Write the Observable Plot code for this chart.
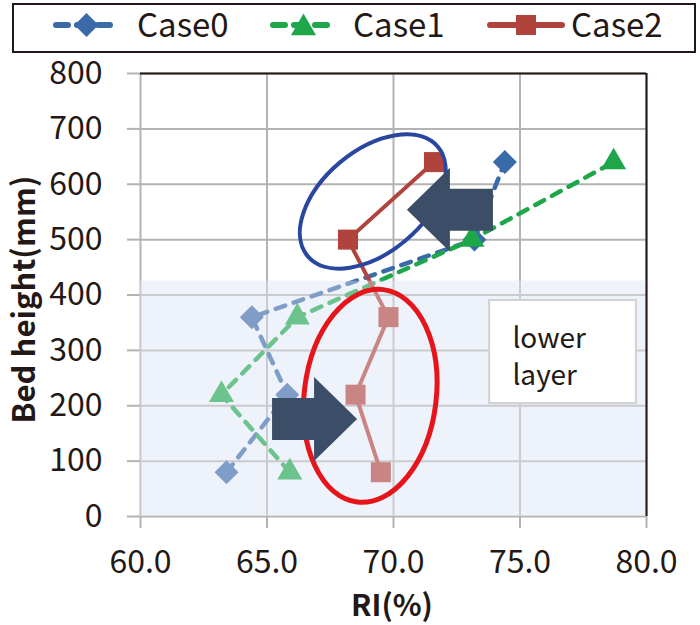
<!DOCTYPE html>
<html><head><meta charset="utf-8">
<script src="https://cdn.jsdelivr.net/npm/d3@7"></script>
<script src="https://cdn.jsdelivr.net/npm/@observablehq/plot@0.6"></script>
<style>
body{margin:0;background:#fff;font-family:"Noto Sans CJK JP","Noto Sans",sans-serif;}
#chart{width:700px;}
#chart svg{display:block;}
</style></head><body><div id="chart"></div>
<script>
// ---- data ----
const heights = [80, 220, 360, 500, 640];               // Bed height (mm)
const case0 = [63.4, 65.8, 64.4, 73.2, 74.4];           // RI(%)
const case1 = [65.9, 63.2, 66.2, 73.1, 78.7];
const case2 = [69.5, 68.5, 69.8, 68.2, 71.6];
const seriesNames = ["Case0", "Case1", "Case2"];
const xTicks = [60, 65, 70, 75, 80];
const yTicks = [0, 100, 200, 300, 400, 500, 600, 700, 800];
const xLabel = "RI(%)";
const yLabel = "Bed height(mm)";
const lowerLayerRange = [0, 425];
const lowerLayerLabel = "lower\nlayer";
// annotation anchors (data units)
const labelBoxX = [73.8, 79.6], labelBoxY = [204, 390], labelTextPos = [74.7, 352];
const ellipseCenters = [[69.2, 568], [69.1, 217]];
const arrowSpans = [[73.95, 70.55, 553], [65.22, 68.58, 175]];

// ---- styles ----
const colors = ["#3b6aa9", "#1ea64b", "#b0433b"];
const symbols = ["diamond2", "triangle", "square"];
const symbolR = [10.8, 9.3, 11.3];
const dashes = ["10,9", "10,9", null];
const textColor = "#231815";
const gridColor = "#b3b3b3";
const font = "'Noto Sans CJK JP', 'Noto Sans', sans-serif";

const values = [case0, case1, case2];
const rows = seriesNames.flatMap((name, i) => heights.map((h, j) => ({series: name, ri: values[i][j], h})));

// ---- legend ----
const legend = d3.create("svg").attr("width", 700).attr("height", 55)
  .style("font-family", font);
legend.append("rect").attr("x", 13).attr("y", 4).attr("width", 682).attr("height", 48)
  .attr("fill", "white").attr("stroke", textColor).attr("stroke-width", 2);
const legendPos = [[53, 120, 137], [270, 337, 353], [487, 565, 571]];
const d3sym = {diamond2: d3.symbolDiamond2, triangle: d3.symbolTriangle, square: d3.symbolSquare};
seriesNames.forEach((name, i) => {
  const [a, b, t] = legendPos[i];
  const ln = legend.append("line").attr("x1", a + 3).attr("x2", b - 3).attr("y1", 25).attr("y2", 25)
    .attr("stroke", colors[i]).attr("stroke-width", 6).attr("stroke-linecap", "round");
  if (dashes[i]) ln.attr("stroke-dasharray", "12,9");
  legend.append("path").attr("transform", `translate(${(a + b) / 2},${i === 1 ? 28 : 25})`)
    .attr("d", d3.symbol(d3sym[symbols[i]], Math.PI * symbolR[i] * symbolR[i])())
    .attr("fill", colors[i]);
  legend.append("text").attr("x", t).attr("y", 37).attr("font-size", 33).attr("fill", textColor).text(name);
});

// ---- custom annotation marks ----
const ellipseSpecs = [
  {c: ellipseCenters[0], rx: 85, ry: 51, angle: -40, color: "#2a47a0", w: 4},
  {c: ellipseCenters[1], rx: 66, ry: 107, angle: 7, color: "#e6141b", w: 5}
];
function ellipsesMark(index, scales) {
  const g = d3.create("svg:g");
  for (const e of ellipseSpecs) {
    const px = scales.x(e.c[0]), py = scales.y(e.c[1]);
    g.append("ellipse").attr("cx", px).attr("cy", py).attr("rx", e.rx).attr("ry", e.ry)
      .attr("transform", `rotate(${e.angle},${px},${py})`)
      .attr("fill", "none").attr("stroke", e.color).attr("stroke-width", e.w);
  }
  return g.node();
}
function arrowsMark(index, scales) {
  const g = d3.create("svg:g");
  for (const [from, to, yv] of arrowSpans) {
    const tx = scales.x(from), hx0 = scales.x(to), cy = scales.y(yv);
    const dir = Math.sign(hx0 - tx);
    const hb = hx0 - dir * 43;
    const pts = [[tx, cy - 21], [hb, cy - 21], [hb, cy - 42], [hx0, cy], [hb, cy + 42], [hb, cy + 21], [tx, cy + 21]];
    g.append("path").attr("d", "M" + pts.map(p => p.join(",")).join("L") + "Z").attr("fill", "#3c4d68");
  }
  return g.node();
}
function axisLabelsMark(index, scales, vals, dims) {
  const g = d3.create("svg:g").attr("fill", textColor).attr("font-weight", "bold");
  const cy = (dims.marginTop + dims.height - dims.marginBottom) / 2 + 5;
  g.append("text").attr("transform", `translate(${dims.marginLeft - 116},${cy}) rotate(-90)`)
    .attr("text-anchor", "middle").attr("dy", "0.36em").attr("font-size", 31).text(yLabel);
  const cx = (dims.marginLeft + dims.width - dims.marginRight) / 2 - 1;
  g.append("text").attr("x", cx).attr("y", dims.height - dims.marginBottom + 100)
    .attr("text-anchor", "middle").attr("font-size", 30).text(xLabel);
  return g.node();
}

const lowerRect = [{x1: xTicks[0], x2: xTicks[xTicks.length - 1], y1: lowerLayerRange[0], y2: lowerLayerRange[1]}];

const plot = Plot.plot({
  width: 700, height: 570,
  marginTop: 18, marginBottom: 109, marginLeft: 140, marginRight: 54,
  style: {fontFamily: font, fontSize: "32px", color: textColor, background: "white", overflow: "visible"},
  x: {domain: [60, 80]},
  y: {domain: [0, 800]},
  marks: [
    Plot.rect(lowerRect, {x1: "x1", x2: "x2", y1: "y1", y2: "y2", fill: "#eef3fa"}),
    Plot.gridX(xTicks, {stroke: gridColor, strokeWidth: 2, strokeOpacity: 1}),
    Plot.gridY(yTicks, {stroke: gridColor, strokeWidth: 2, strokeOpacity: 1}),
    Plot.axisX(xTicks, {tickSize: 12, tickPadding: 22, stroke: gridColor, strokeWidth: 2, fill: textColor,
      fontSize: 32, tickFormat: d3.format(".1f"), label: null}),
    Plot.axisY(yTicks, {tickSize: 13, tickPadding: 25, stroke: gridColor, strokeWidth: 2, fill: textColor,
      fontSize: 32, tickFormat: d => String(d), label: null}),
    ...seriesNames.map((name, i) => Plot.line(rows.filter(r => r.series === name), {
      x: "ri", y: "h", stroke: colors[i], strokeWidth: dashes[i] ? 4.5 : 4,
      strokeDasharray: dashes[i] || undefined, strokeLinecap: "round"
    })),
    ...seriesNames.map((name, i) => Plot.dot(rows.filter(r => r.series === name), {
      x: "ri", y: "h", symbol: () => symbols[i], r: symbolR[i], fill: colors[i], stroke: "none"
    })),
    Plot.rect(lowerRect, {x1: "x1", x2: "x2", y1: "y1", y2: "y2", fill: "#eef3fa", fillOpacity: 0.38}),
    Plot.rect([{}], {x1: () => labelBoxX[0], x2: () => labelBoxX[1], y1: () => labelBoxY[0], y2: () => labelBoxY[1],
      fill: "white", stroke: "#d2d2d2", strokeWidth: 2}),
    Plot.text([lowerLayerLabel], {x: () => labelTextPos[0], y: () => labelTextPos[1], text: d => d,
      textAnchor: "start", lineAnchor: "top", lineHeight: 1.33, fontSize: 28, fill: textColor}),
    ellipsesMark,
    arrowsMark,
    Plot.ruleY([800], {stroke: textColor, strokeWidth: 2}),
    Plot.ruleX([80], {stroke: textColor, strokeWidth: 2}),
    axisLabelsMark
  ]
});

const chart = document.getElementById("chart");
chart.appendChild(legend.node());
chart.appendChild(plot);
</script>
</body></html>
